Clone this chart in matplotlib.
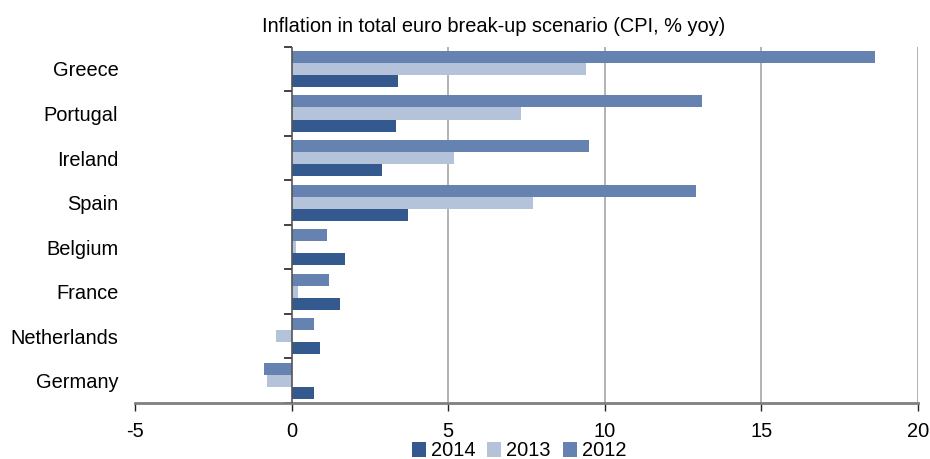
import matplotlib
matplotlib.use("Agg")
import matplotlib.pyplot as plt
import numpy as np

plt.rcParams['font.family'] = ['Liberation Sans', 'DejaVu Sans']

countries = ["Greece", "Portugal", "Ireland", "Spain", "Belgium", "France", "Netherlands", "Germany"]
v2012 = [18.62, 13.09, 9.50, 12.91, 1.12, 1.21, 0.70, -0.89]
v2013 = [9.39, 7.33, 5.20, 7.71, 0.13, 0.22, -0.51, -0.80]
v2014 = [3.40, 3.32, 2.90, 3.73, 1.72, 1.53, 0.92, 0.70]
xticks = [-5, 0, 5, 10, 15, 20]
title = "Inflation in total euro break-up scenario (CPI, % yoy)"

c2012 = "#6682B0"
c2013 = "#B4C2DA"
c2014 = "#34598F"
FS = 14.4

fig = plt.figure(figsize=(9.3, 4.59), dpi=100)
ax = fig.add_axes([135/930, 1-403/459, (918-135)/930, (403-46.7)/459])

n = len(countries)
pos = np.arange(n)[::-1].astype(float)
h = 0.27
ax.barh(pos + h, v2012, height=h, color=c2012, label="2012", zorder=3)
ax.barh(pos, v2013, height=h, color=c2013, label="2013", zorder=3)
ax.barh(pos - h, v2014, height=h, color=c2014, label="2014", zorder=3)

ax.set_xlim(-5, 20)
ax.set_ylim(-0.5, n - 0.5)
ax.set_xticks(xticks)
ax.set_xticklabels([str(x) for x in xticks], fontsize=FS)
ax.tick_params(axis='x', length=6, width=1, color='#222222', pad=8)

ax.set_yticks(pos)
ax.set_yticklabels(countries, fontsize=FS)
ax.tick_params(axis='y', length=0, pad=12)

for s in ['top', 'right', 'left']:
    ax.spines[s].set_visible(False)
ax.spines['bottom'].set_color('#808080')
ax.spines['bottom'].set_linewidth(2)

ax.xaxis.grid(True, color='#A6A6A6', linewidth=1.2, zorder=0)
ax.set_axisbelow(True)
fig.canvas.draw()
ax.get_xgridlines()[0].set_visible(False)
ax.get_xgridlines()[1].set_visible(False)

ax.axvline(0, color='#555555', linewidth=1.2, zorder=4)

sec = ax.secondary_yaxis((0 - (-5)) / 25)
sec.set_yticks(np.arange(-0.5, n + 0.5, 1.0))
sec.set_yticklabels([])
sec.spines['left'].set_visible(False)
sec.tick_params(axis='y', length=6, width=1.2, color='#222222', direction='out')

fig.text(494/930, 1-27/459, title, ha='center', va='center', fontsize=FS)

handles, labels = ax.get_legend_handles_labels()
order = [2, 1, 0]
fig.legend([handles[i] for i in order], [labels[i] for i in order],
           loc='center', bbox_to_anchor=(519/930, 1-451/459), ncol=3,
           frameon=False, fontsize=FS, handlelength=0.7, handleheight=0.8,
           handletextpad=0.25, columnspacing=0.6, borderpad=0)

fig.savefig("out.png", dpi=100)
